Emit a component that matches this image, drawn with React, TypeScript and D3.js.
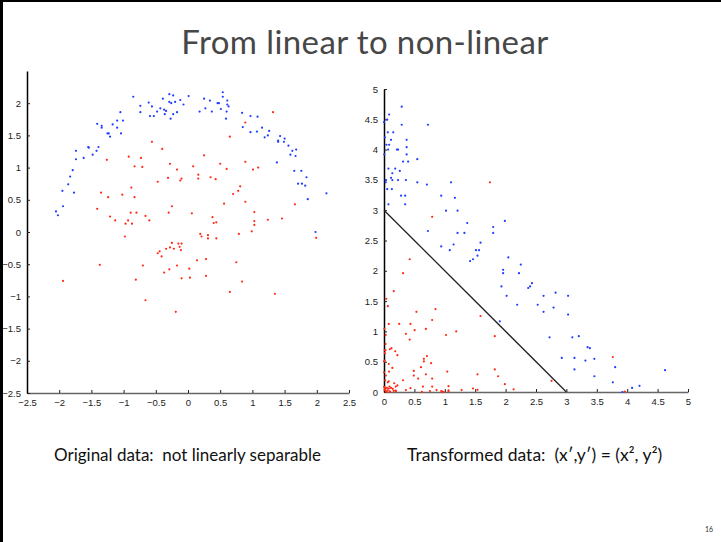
import React, { useEffect, useRef } from "react";
import * as d3 from "d3";

// original data (left panel)
const blueOriginal: [number, number][] = [
  [-0.85, 2.1], [0.01, 2.11], [0.54, 2.17], [0.54, 2.1], [-0.29, 2.14], [-0.23, 2.12],
  [-0.61, 2.01], [-0.74, 1.96], [-0.74, 1.86], [-0.56, 1.95], [-0.39, 2.07], [-0.48, 1.87],
  [-0.43, 1.92], [-0.37, 1.9], [-0.34, 1.88], [-0.36, 1.83], [-0.29, 2.02], [-0.26, 2.0],
  [-0.2, 2.02], [-0.12, 2.05], [-0.07, 1.98], [-0.17, 1.86], [-0.23, 1.83], [-0.27, 1.76],
  [-0.59, 1.8], [-0.53, 1.8], [0.25, 2.07], [0.34, 2.04], [0.46, 2.0], [0.48, 2.0],
  [0.51, 1.91], [0.61, 2.04], [0.61, 1.98], [0.63, 1.95], [0.6, 1.87], [0.59, 1.76],
  [0.27, 1.92], [0.18, 1.87], [0.37, 1.87], [0.84, 1.85], [0.97, 1.8], [1.08, 1.79],
  [0.85, 1.63], [0.97, 1.55], [1.07, 1.56], [1.15, 1.62], [1.26, 1.57], [1.24, 1.5],
  [1.19, 1.47], [1.43, 1.49], [1.5, 1.45], [1.4, 1.42], [1.49, 1.4], [1.4, 1.4],
  [1.56, 1.34], [1.62, 1.26], [1.59, 1.2], [1.68, 1.28], [1.67, 1.18], [1.38, 1.08],
  [1.65, 0.95], [1.76, 0.95], [1.84, 0.85], [1.71, 0.75], [1.77, 0.75], [1.82, 0.72],
  [1.86, 0.51], [2.15, 0.6], [1.98, 0.0],
  [-1.05, 1.86], [-1.01, 1.73], [-1.1, 1.73], [-1.1, 1.62], [-1.17, 1.67], [-1.04, 1.53],
  [-1.34, 1.65], [-1.34, 1.62], [-1.41, 1.68], [-1.25, 1.53], [-1.23, 1.53], [-1.21, 1.48],
  [-1.55, 1.32], [-1.54, 1.31], [-1.39, 1.32], [-1.42, 1.26], [-1.48, 1.2], [-1.62, 1.15],
  [-1.74, 1.26], [-1.74, 1.13], [-1.79, 0.96], [-1.83, 0.86], [-1.86, 0.74], [-1.77, 0.61],
  [-1.95, 0.64], [-1.94, 0.4], [-2.05, 0.32], [-2.02, 0.26],
];

const redOriginal: [number, number][] = [
  [1.32, 1.86], [0.89, 1.7], [0.65, 1.48], [-0.56, 1.4], [-0.4, 1.29], [0.25, 1.19],
  [-0.92, 1.17], [-0.73, 1.15], [-1.26, 1.12], [0.89, 1.09], [-0.28, 1.06], [0.5, 1.06],
  [-0.83, 1.02], [-0.71, 1.01], [0.08, 1.02], [0.6, 0.98], [-0.17, 0.97], [1.09, 1.0],
  [1.01, 0.97], [0.16, 0.89], [0.16, 0.83], [0.35, 0.85], [0.43, 0.82], [-0.31, 0.84],
  [-0.1, 0.83], [-0.12, 0.8], [-0.47, 0.78], [0.81, 0.71], [0.78, 0.64], [0.7, 0.59],
  [-0.88, 0.69], [-1.35, 0.61], [-1.02, 0.58], [-1.24, 0.54], [-0.83, 0.54], [0.89, 0.47],
  [0.56, 0.44], [1.66, 0.43], [-0.25, 0.4], [-1.41, 0.36], [1.03, 0.31], [-0.3, 0.3],
  [0.06, 0.29], [-0.89, 0.3], [-0.8, 0.3], [-1.21, 0.24], [-0.66, 0.25], [0.38, 0.23],
  [1.46, 0.21], [1.24, 0.19], [-1.13, 0.18], [-0.93, 0.18], [-0.6, 0.18], [1.03, 0.17],
  [0.44, 0.15], [0.4, 0.14], [-0.97, 0.13], [-0.87, 0.13], [1.03, 0.11], [0.99, 0.01],
  [0.19, -0.03], [0.21, -0.07], [0.31, -0.05], [0.31, -0.1], [0.44, -0.1], [0.79, -0.03],
  [-0.98, -0.07], [1.99, -0.09], [-0.25, -0.17], [-0.15, -0.18], [-0.1, -0.18], [-0.13, -0.23],
  [-0.28, -0.24], [-0.22, -0.26], [-0.11, -0.28], [-0.34, -0.26], [-0.44, -0.3], [-0.47, -0.33],
  [-0.41, -0.38], [0.28, -0.42], [0.14, -0.44], [0.75, -0.47], [-1.37, -0.51], [-0.17, -0.52],
  [-0.7, -0.52], [0.02, -0.57], [-0.29, -0.58], [-0.37, -0.63], [0.28, -0.68], [0.03, -0.71],
  [-0.1, -0.72], [-0.81, -0.74], [0.84, -0.77], [-1.94, -0.76], [0.65, -0.93], [1.35, -0.96],
  [-0.66, -1.06], [-0.19, -1.24],
];

// transformed data (right panel): (x', y') = (x², y²), as stated on the slide
const blueTransformed = blueOriginal.map(([x, y]) => [x * x, y * y] as [number, number]);
const redTransformed = redOriginal.map(([x, y]) => [x * x, y * y] as [number, number]);

// separating line in transformed space: x' + y' = 3
const separator: [number, number][] = [[0, 3], [3, 0]];

const leftTicks = [-2.5, -2, -1.5, -1, -0.5, 0, 0.5, 1, 1.5, 2, 2.5];
const leftYTicks = [-2.5, -2, -1.5, -1, -0.5, 0, 0.5, 1, 1.5, 2];
const rightTicks = [0, 0.5, 1, 1.5, 2, 2.5, 3, 3.5, 4, 4.5, 5];

const title = "From linear to non-linear";
const leftCaption = "Original data:  not linearly separable";
const rightCaption = "Transformed data:  (x\u2032,y\u2032) = (x\u00b2, y\u00b2)";
const pageNumber = "16";

const BLUE = "#1f3cff";
const RED = "#ff2a14";
const FONT = "Lato, 'Open Sans', sans-serif";
const TICK_FONT = "'Liberation Sans', Arial, sans-serif";

const App = () => {
  const svgRef = useRef(null);

  useEffect(() => {
    const svg = d3.select(svgRef.current);
    svg.selectAll("*").remove();
    const fmt = d3.format("~g");

    // slide frame
    svg.append("rect").attr("x", 0).attr("y", 0).attr("width", 721).attr("height", 542).attr("fill", "#fff");
    svg.append("line").attr("x1", 1.5).attr("x2", 1.5).attr("y1", 0).attr("y2", 542).attr("stroke", "#000").attr("stroke-width", 3);
    svg.append("line").attr("x1", 0).attr("x2", 721).attr("y1", 1).attr("y2", 1).attr("stroke", "#000").attr("stroke-width", 2);

    // title
    svg.append("text")
      .attr("x", 365).attr("y", 54)
      .attr("text-anchor", "middle")
      .attr("font-family", FONT)
      .attr("font-size", 33)
      .attr("letter-spacing", 0.4)
      .attr("fill", "#474747")
      .text(title);

    const drawPanel = (
      xScale: d3.ScaleLinear<number, number>,
      yScale: d3.ScaleLinear<number, number>,
      xTicks: number[],
      yTicks: number[],
      blue: [number, number][],
      red: [number, number][]
    ) => {
      const [x0] = xScale.range();
      const [y0] = yScale.range();

      const xAxis = svg.append("g")
        .attr("transform", `translate(0, ${y0})`)
        .call(d3.axisBottom(xScale).tickValues(xTicks).tickFormat(fmt).tickSize(-3).tickSizeOuter(0).tickPadding(6));
      xAxis.select(".domain").attr("stroke", "#666").attr("stroke-width", 1.5);
      xAxis.selectAll(".tick line").attr("stroke", "#222");
      xAxis.selectAll("text").attr("font-family", TICK_FONT).attr("font-size", 9.5).attr("fill", "#222");

      const yAxis = svg.append("g")
        .attr("transform", `translate(${x0}, 0)`)
        .call(d3.axisLeft(yScale).tickValues(yTicks).tickFormat(fmt).tickSize(-3).tickSizeOuter(0).tickPadding(6));
      yAxis.select(".domain").attr("stroke", "#000").attr("stroke-width", 1.5);
      yAxis.selectAll(".tick line").attr("stroke", "#222");
      yAxis.selectAll("text").attr("font-family", TICK_FONT).attr("font-size", 9.5).attr("fill", "#222");

      svg.append("g").selectAll("circle")
        .data(blue)
        .enter()
        .append("circle")
        .attr("cx", (d) => xScale(d[0]))
        .attr("cy", (d) => yScale(d[1]))
        .attr("r", 1.1)
        .attr("fill", BLUE);

      svg.append("g").selectAll("circle")
        .data(red)
        .enter()
        .append("circle")
        .attr("cx", (d) => xScale(d[0]))
        .attr("cy", (d) => yScale(d[1]))
        .attr("r", 1.1)
        .attr("fill", RED);
    };

    // left panel
    const lx = d3.scaleLinear().domain([-2.5, 2.5]).range([27, 349]);
    const ly = d3.scaleLinear().domain([-2.5, 2.5]).range([393, 71]);
    drawPanel(lx, ly, leftTicks, leftYTicks, blueOriginal, redOriginal);

    // right panel
    const rx = d3.scaleLinear().domain([0, 5]).range([384, 688]);
    const ry = d3.scaleLinear().domain([0, 5]).range([392, 89]);
    drawPanel(rx, ry, rightTicks, rightTicks, blueTransformed, redTransformed);

    const line = d3.line<[number, number]>().x((d) => rx(d[0])).y((d) => ry(d[1]));
    svg.append("path")
      .datum(separator)
      .attr("fill", "none")
      .attr("stroke", "#222")
      .attr("stroke-width", 1.3)
      .attr("d", line);

    // captions
    svg.append("text")
      .attr("x", 54).attr("y", 461)
      .attr("font-family", FONT)
      .attr("font-size", 17)
      .attr("fill", "#111")
      .style("white-space", "pre")
      .text(leftCaption);
    svg.append("text")
      .attr("x", 407).attr("y", 461)
      .attr("font-family", FONT)
      .attr("font-size", 17.5)
      .attr("fill", "#111")
      .style("white-space", "pre")
      .text(rightCaption);
    svg.append("text")
      .attr("x", 709).attr("y", 532)
      .attr("text-anchor", "middle")
      .attr("font-family", FONT)
      .attr("font-size", 7)
      .attr("fill", "#333")
      .text(pageNumber);
  }, []);

  return (
    <svg
      ref={svgRef}
      width={721}
      height={542}
      style={{ position: "absolute", left: 0, top: 0, display: "block" }}
    ></svg>
  );
};

export default App;
